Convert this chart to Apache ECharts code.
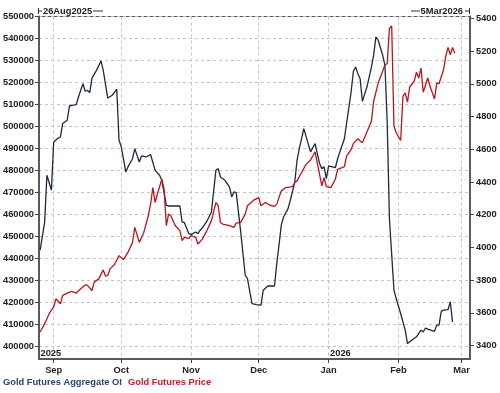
<!DOCTYPE html>
<html><head><meta charset="utf-8">
<script src="https://cdn.jsdelivr.net/npm/echarts@6/dist/echarts.min.js"></script>
<style>html,body{margin:0;padding:0;background:#fff}#c{width:500px;height:393px}</style>
</head><body><div id="c"></div>
<script>
// ---- data ----
const oiDates = ['2025-08-26','2025-08-28','2025-08-29','2025-08-31','2025-09-01','2025-09-03','2025-09-04','2025-09-05','2025-09-07','2025-09-08','2025-09-11','2025-09-12','2025-09-14','2025-09-15','2025-09-16','2025-09-17','2025-09-18','2025-09-20','2025-09-22','2025-09-23','2025-09-25','2025-09-27','2025-09-29','2025-09-30','2025-10-01','2025-10-03','2025-10-04','2025-10-06','2025-10-07','2025-10-09','2025-10-10','2025-10-12','2025-10-14','2025-10-16','2025-10-18','2025-10-19','2025-10-21','2025-10-22','2025-10-27','2025-10-28','2025-10-29','2025-10-31','2025-11-01','2025-11-03','2025-11-04','2025-11-05','2025-11-06','2025-11-08','2025-11-10','2025-11-12','2025-11-13','2025-11-14','2025-11-16','2025-11-18','2025-11-19','2025-11-20','2025-11-21','2025-11-23','2025-11-25','2025-11-26','2025-11-28','2025-11-30','2025-12-02','2025-12-03','2025-12-05','2025-12-08','2025-12-09','2025-12-10','2025-12-11','2025-12-12','2025-12-14','2025-12-15','2025-12-17','2025-12-18','2025-12-19','2025-12-21','2025-12-24','2025-12-26','2025-12-28','2025-12-29','2025-12-30','2025-12-31','2026-01-01','2026-01-04','2026-01-05','2026-01-06','2026-01-08','2026-01-11','2026-01-12','2026-01-13','2026-01-14','2026-01-15','2026-01-16','2026-01-18','2026-01-20','2026-01-21','2026-01-22','2026-01-23','2026-01-25','2026-01-26','2026-01-27','2026-01-28','2026-01-30','2026-01-31','2026-02-02','2026-02-04','2026-02-05','2026-02-07','2026-02-09','2026-02-11','2026-02-12','2026-02-13','2026-02-14','2026-02-17','2026-02-18','2026-02-19','2026-02-20','2026-02-21','2026-02-23','2026-02-24','2026-02-25'];
const oiValues = [443700,456500,477800,471000,492900,494700,495200,501300,502800,509300,509900,513400,519400,516000,516400,515400,522000,525500,529800,525500,512900,514200,516900,493700,490700,479300,481700,485300,489900,483800,486600,486100,487200,480100,477800,475500,464100,463800,463800,456600,456200,451200,450800,452000,451200,452800,453800,456900,461100,480100,480800,477000,475500,472500,467900,470200,469900,452000,432300,430800,419400,418900,418700,425500,427400,427400,437600,446000,455100,458800,462600,466400,474700,484600,489900,499000,488400,492200,483100,480800,481600,476200,482000,481200,485300,488400,494400,515700,525100,527000,524000,521700,511400,517900,527000,532400,540700,539200,532400,527800,502000,458000,425500,421700,414800,407300,401200,402800,404300,407300,406500,408300,407800,406800,409600,409600,415900,416400,416700,420200,411100];

const priceDates = ['2025-08-26','2025-08-28','2025-08-30','2025-09-01','2025-09-02','2025-09-04','2025-09-05','2025-09-08','2025-09-09','2025-09-11','2025-09-13','2025-09-15','2025-09-16','2025-09-18','2025-09-19','2025-09-21','2025-09-23','2025-09-24','2025-09-25','2025-09-26','2025-09-28','2025-09-30','2025-10-02','2025-10-04','2025-10-06','2025-10-07','2025-10-09','2025-10-11','2025-10-13','2025-10-14','2025-10-15','2025-10-16','2025-10-17','2025-10-19','2025-10-20','2025-10-21','2025-10-22','2025-10-23','2025-10-25','2025-10-27','2025-10-28','2025-10-29','2025-10-31','2025-11-01','2025-11-03','2025-11-04','2025-11-06','2025-11-08','2025-11-10','2025-11-12','2025-11-13','2025-11-14','2025-11-15','2025-11-18','2025-11-20','2025-11-21','2025-11-23','2025-11-25','2025-11-26','2025-11-29','2025-12-01','2025-12-02','2025-12-04','2025-12-06','2025-12-08','2025-12-09','2025-12-11','2025-12-13','2025-12-16','2025-12-17','2025-12-18','2025-12-20','2025-12-22','2025-12-24','2025-12-25','2025-12-26','2025-12-29','2025-12-30','2025-12-31','2026-01-02','2026-01-04','2026-01-05','2026-01-07','2026-01-08','2026-01-09','2026-01-11','2026-01-12','2026-01-14','2026-01-15','2026-01-16','2026-01-20','2026-01-21','2026-01-23','2026-01-25','2026-01-26','2026-01-27','2026-01-28','2026-01-29','2026-01-30','2026-01-31','2026-02-02','2026-02-03','2026-02-04','2026-02-05','2026-02-06','2026-02-08','2026-02-09','2026-02-10','2026-02-11','2026-02-12','2026-02-14','2026-02-15','2026-02-17','2026-02-18','2026-02-19','2026-02-21','2026-02-22','2026-02-23','2026-02-24','2026-02-25','2026-02-26'];
const priceValues = [3483,3534,3595,3636,3686,3656,3707,3727,3731,3721,3747,3771,3768,3737,3788,3808,3863,3824,3829,3869,3896,3950,3926,3971,4031,4123,4031,4092,4194,4265,4366,4275,4325,4417,4356,4133,4204,4194,4133,4103,4042,4062,4056,4072,4062,4021,4051,4103,4164,4275,4255,4153,4143,4133,4123,4149,4153,4204,4255,4291,4305,4255,4275,4258,4251,4265,4346,4366,4372,4397,4407,4458,4508,4535,4559,4585,4377,4427,4372,4366,4417,4478,4488,4494,4559,4599,4636,4665,4651,4640,4772,4894,5005,5077,5117,5123,5340,5354,4742,4701,4654,4925,4945,4888,4981,5016,5071,5036,5097,4949,5036,4985,4908,5005,5001,5086,5168,5223,5178,5223,5188];

const seriesNames = ['Gold Futures Aggregate OI', 'Gold Futures Price'];
const monthNames = ['Jan','Feb','Mar','Apr','May','Jun','Jul','Aug','Sep','Oct','Nov','Dec'];
const rangeLabels = ['26Aug2025', '5Mar2026'];
const yearLabels = [['2025', '2025-08-25T12:00:00'], ['2026', '2026-01-01T00:00:00']];
const xRange = ['2025-08-25T12:00:00', '2026-03-04T18:00:00'];
const leftRange = [394200, 550000];
const rightRange = [3318, 5412];

// ---- chart ----
const FONT = '"Liberation Sans", Arial, sans-serif';
const oiColor = '#1c2a40', priceColor = '#b8151f';
const chart = echarts.init(document.getElementById('c'), null, {renderer: 'canvas'});
const G = {left: 38, right: 30, top: 16.5, bottom: 34};
const lbl = {fontFamily: FONT, fontWeight: 'bold', fontSize: 9.3, color: '#222'};
const gridLine = {show: true, lineStyle: {color: '#c4c4c4', type: [3, 3], width: 1}};

chart.setOption({
  animation: false,
  backgroundColor: '#fff',
  grid: {left: G.left, right: G.right, top: G.top, bottom: G.bottom, show: true, borderColor: '#555', borderWidth: 1, containLabel: false},
  xAxis: {
    type: 'time', min: xRange[0], max: xRange[1], splitNumber: 5,
    axisLine: {show: true, lineStyle: {color: '#5a5a5a', width: 2}},
    axisTick: {show: true, length: 4, lineStyle: {color: '#444', width: 1}},
    axisLabel: Object.assign({}, lbl, {margin: 7, showMinLabel: false, showMaxLabel: false,
      formatter: v => { const d = new Date(v); return d.getDate() === 1 ? monthNames[d.getMonth()] : ''; }}),
    splitLine: gridLine
  },
  yAxis: [{
    type: 'value', position: 'left', min: leftRange[0], max: leftRange[1],
    minInterval: 10000, maxInterval: 10000,
    axisLine: {show: true, lineStyle: {color: '#5a5a5a', width: 2}},
    axisTick: {show: true, length: 4, lineStyle: {color: '#444'}},
    axisLabel: Object.assign({}, lbl, {margin: 5, showMinLabel: false, formatter: v => String(v)}),
    splitLine: gridLine
  }, {
    type: 'value', position: 'right', min: rightRange[0], max: rightRange[1],
    minInterval: 200, maxInterval: 200,
    axisLine: {show: true, lineStyle: {color: '#5a5a5a', width: 2}},
    axisTick: {show: true, length: 4, lineStyle: {color: '#444'}},
    axisLabel: Object.assign({}, lbl, {margin: 6, showMinLabel: false, showMaxLabel: false, formatter: v => String(v)}),
    splitLine: {show: false}
  }],
  series: [{
    name: seriesNames[0], type: 'line', yAxisIndex: 0, showSymbol: false,
    lineStyle: {color: oiColor, width: 1.3}, itemStyle: {color: oiColor},
    data: oiDates.map((d, i) => [d, oiValues[i]])
  }, {
    name: seriesNames[1], type: 'line', yAxisIndex: 1, showSymbol: false,
    lineStyle: {color: priceColor, width: 1.3}, itemStyle: {color: priceColor},
    data: priceDates.map((d, i) => [d, priceValues[i]])
  }]
});

// ---- annotations (texts) ----
const W = chart.getWidth(), H = chart.getHeight();
const plotL = G.left, plotR = W - G.right, plotB = H - G.bottom;
const txt = (x, y, s, color, align) => ({type: 'text', x: x, y: y, style: {text: s, fill: color || '#222', font: 'bold 9.3px ' + FONT, textAlign: align || 'left', textVerticalAlign: 'middle'}});
const ln = (x1, y1, x2, y2) => ({type: 'line', shape: {x1, y1, x2, y2}, style: {stroke: '#333', lineWidth: 1}});
const graphics = [];
graphics.push(ln(plotL + 0.5, 8, plotL + 0.5, 14), ln(plotL, 11, plotL + 4, 11));
graphics.push(txt(plotL + 5, 11, rangeLabels[0]));
graphics.push(ln(plotL + 55, 11, plotL + 65, 11));
graphics.push(ln(plotR - 0.5, 8, plotR - 0.5, 14), ln(plotR - 5, 11, plotR, 11));
graphics.push(txt(plotR - 7, 11, rangeLabels[1], '#222', 'right'));
graphics.push(ln(plotR - 59, 11, plotR - 50, 11));
yearLabels.forEach(([s, d]) => {
  const px = chart.convertToPixel({xAxisIndex: 0}, d);
  graphics.push(txt(Math.max(px, plotL) + 1.5, plotB - 6, s));
});
graphics.push(txt(3, 382, seriesNames[0], '#2c4470'));
graphics.push(txt(128, 382, seriesNames[1], '#c3202a'));
chart.setOption({graphic: graphics});
</script>
</body></html>
